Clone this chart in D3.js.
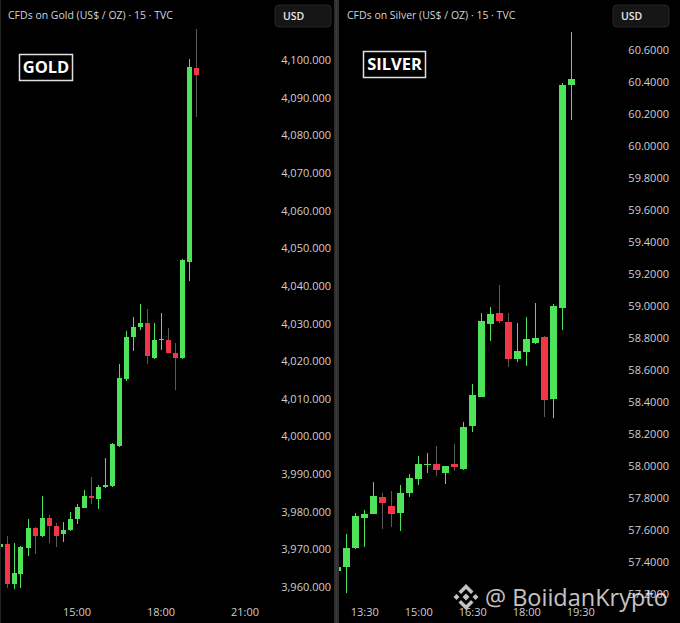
<!DOCTYPE html>
<html>
<head>
<meta charset="utf-8">
<script src="https://cdn.jsdelivr.net/npm/d3@7"></script>
<style>
  html, body { margin: 0; padding: 0; background: #000; }
  svg { display: block; font-family: "Open Sans", sans-serif; }
</style>
</head>
<body>
<div id="chart"></div>
<script>
// gold, 15 min candles
const goldTimes = ["12:15","12:30","12:45","13:00","13:15","13:30","13:45","14:00","14:15","14:30","14:45","15:00","15:15","15:30","15:45","16:00","16:15","16:30","16:45","17:00","17:15","17:30","17:45","18:00","18:15","18:30","18:45","19:00","19:15"]
const goldOpen  = [3970.5,3971.4,3960.8,3963.4,3970.4,3975.7,3973.5,3978.3,3976.2,3974.1,3975.1,3978.1,3980.9,3984.2,3983.4,3986.6,3986.8,3997.4,4015.3,4026.4,4029.1,4030.1,4020.8,4025.6,4025.6,4022.2,4020.8,4046.3,4097.9]
const goldHigh  = [3972.0,3973.5,3971.7,3970.8,3978.1,3975.9,3984.2,3979.1,3977.0,3977.3,3979.9,3982.0,3985.8,3989.2,3987.1,3994.3,3998.2,4019.2,4028.0,4031.7,4035.2,4033.8,4030.1,4032.8,4028.8,4024.8,4047.2,4100.3,4108.2]
const goldLow   = [3969.5,3959.7,3959.5,3959.7,3968.2,3968.8,3973.3,3971.7,3970.6,3971.9,3974.9,3976.7,3980.9,3982.0,3980.7,3986.3,3986.6,3997.2,4014.7,4022.7,4028.3,4019.2,4020.6,4023.0,4022.2,4012.3,4020.6,4041.3,4084.9]
const goldClose = [3971.3,3960.8,3963.7,3970.6,3975.7,3973.5,3978.3,3976.2,3973.5,3975.1,3978.1,3981.2,3984.2,3983.6,3986.6,3987.1,3998.0,4015.5,4026.4,4029.1,4030.1,4021.4,4025.6,4025.9,4022.2,4020.8,4046.9,4098.1,4096.0]
const goldTicks = [3960,3970,3980,3990,4000,4010,4020,4030,4040,4050,4060,4070,4080,4090,4100]
const goldTimeTicks = ["15:00","18:00","21:00"]

// silver, 15 min candles
const silverTimes = ["12:45","13:00","13:15","13:30","13:45","14:00","14:15","14:30","14:45","15:00","15:15","15:30","15:45","16:00","16:15","16:30","16:45","17:00","17:15","17:30","17:45","18:00","18:15","18:30","18:45","19:00","19:15"]
const silverOpen  = [57.341,57.368,57.484,57.672,57.697,57.803,57.747,57.703,57.828,57.916,58.005,58.009,57.953,58.009,57.978,58.247,58.428,58.886,58.955,58.897,58.666,58.709,58.768,58.803,58.416,58.984,60.376]
const silverHigh  = [57.375,57.572,57.703,57.722,57.897,57.828,57.841,57.878,57.947,58.059,58.078,58.122,58.000,58.134,58.274,58.509,58.953,58.993,59.128,58.955,58.893,58.930,59.018,58.811,59.009,60.393,60.711]
const silverLow   = [57.330,57.203,57.478,57.491,57.697,57.603,57.616,57.591,57.803,57.878,57.953,57.934,57.884,57.966,57.975,58.209,58.428,58.778,58.891,58.618,58.647,58.622,58.759,58.305,58.299,58.847,60.159]
const silverClose = [57.366,57.486,57.684,57.697,57.809,57.766,57.697,57.828,57.922,58.009,58.011,57.972,57.999,57.991,58.241,58.441,58.903,58.949,58.905,58.668,58.716,58.791,58.797,58.409,58.997,60.378,60.416]
const silverTicks = [57.2,57.4,57.6,57.8,58.0,58.2,58.4,58.6,58.8,59.0,59.2,59.4,59.6,59.8,60.0,60.2,60.4,60.6]
const silverTimeTicks = ["13:30","15:00","16:30","18:00","19:30"]

const UP = "#4fe35b"
const DOWN = "#f23645"
const WICK_DOWN = "#5a5a5a"
const TEXT = "#d1d4dc"
const AXIS_TEXT = "#cfcfcf"

const parse = d3.timeParse("%H:%M")
const W = 680
const H = 623

const svg = d3
  .select("#chart")
  .append("svg")
  .attr("width", W)
  .attr("height", H)

svg.append("rect").attr("width", W).attr("height", H).attr("fill", "#000")

const drawPanel = opts => {
  const { left, right, title, badge, badgeBox, times, open, high, low, close,
    ticks, fmt, timeTicks, xDomain, xRange, yDomain, yRange, bodyFrac } = opts

  const candles = times.map((t, i) => ({
    t: parse(t), o: open[i], h: high[i], l: low[i], c: close[i],
  }))

  const x = d3.scaleTime().domain(xDomain.map(parse)).range(xRange)
  const y = d3.scaleLinear().domain(yDomain).range(yRange)
  const step = x(parse("00:15")) - x(parse("00:00"))
  const bw = Math.round(step * bodyFrac)

  const clipId = "clip-" + badge
  svg
    .append("clipPath")
    .attr("id", clipId)
    .append("rect")
    .attr("x", left)
    .attr("y", 0)
    .attr("width", right - left)
    .attr("height", H)

  const g = svg.append("g").attr("clip-path", `url(#${clipId})`)

  // price axis, labels only
  const yAxis = g
    .append("g")
    .attr("transform", `translate(${right - 3},0)`)
    .call(d3.axisLeft(y).tickValues(ticks).tickFormat(fmt).tickSize(0).tickPadding(0))
  yAxis.select(".domain").remove()
  yAxis
    .selectAll("text")
    .attr("fill", AXIS_TEXT)
    .attr("font-size", 11)
    .attr("font-family", "'Open Sans', sans-serif")

  // time axis
  const xAxis = g
    .append("g")
    .attr("transform", "translate(0,600)")
    .call(
      d3.axisBottom(x)
        .tickValues(timeTicks.map(parse))
        .tickFormat(d3.timeFormat("%H:%M"))
        .tickSize(0)
        .tickPadding(8)
    )
  xAxis.select(".domain").remove()
  xAxis
    .selectAll("text")
    .attr("fill", AXIS_TEXT)
    .attr("font-size", 11)
    .attr("font-family", "'Open Sans', sans-serif")

  const cg = g.append("g").attr("shape-rendering", "crispEdges")
  cg.selectAll("line.wick")
    .data(candles)
    .enter()
    .append("line")
    .attr("class", "wick")
    .attr("x1", d => Math.round(x(d.t)) + 0.5)
    .attr("x2", d => Math.round(x(d.t)) + 0.5)
    .attr("y1", d => y(d.h))
    .attr("y2", d => y(d.l))
    .attr("stroke", d => (d.c >= d.o ? UP : WICK_DOWN))
    .attr("stroke-width", 1)

  cg.selectAll("rect.body")
    .data(candles)
    .enter()
    .append("rect")
    .attr("class", "body")
    .attr("x", d => Math.round(x(d.t)) + 0.5 - bw / 2)
    .attr("width", bw)
    .attr("y", d => y(Math.max(d.o, d.c)))
    .attr("height", d => Math.max(1.2, Math.abs(y(d.o) - y(d.c))))
    .attr("fill", d => (d.c >= d.o ? UP : DOWN))

  // header
  g.append("text")
    .attr("x", left + 8)
    .attr("y", 19)
    .attr("fill", TEXT)
    .attr("font-size", 10.5)
    .text(title)

  const usdX = right - 59
  g.append("rect")
    .attr("x", usdX)
    .attr("y", 5)
    .attr("width", 56)
    .attr("height", 22)
    .attr("rx", 4)
    .attr("fill", "#161616")
    .attr("stroke", "#262626")
  g.append("text")
    .attr("x", usdX + 8)
    .attr("y", 20)
    .attr("fill", "#e8e8e8")
    .attr("font-size", 10.5)
    .attr("font-weight", 600)
    .text("USD")

  // name badge
  g.append("rect")
    .attr("x", badgeBox[0] + 0.5)
    .attr("y", badgeBox[1] + 0.5)
    .attr("width", badgeBox[2])
    .attr("height", badgeBox[3])
    .attr("fill", "none")
    .attr("stroke", "#e0e0e0")
    .attr("stroke-width", 1.5)
  g.append("text")
    .attr("x", badgeBox[0] + badgeBox[2] / 2 + 0.5)
    .attr("y", badgeBox[1] + badgeBox[3] / 2 + 6)
    .attr("text-anchor", "middle")
    .attr("fill", "#fff")
    .attr("font-size", 16.5)
    .attr("font-weight", 700)
    .text(badge)
}

drawPanel({
  left: 0, right: 334,
  title: "CFDs on Gold (US$ / OZ) · 15 · TVC",
  badge: "GOLD", badgeBox: [19, 54, 53, 26],
  times: goldTimes, open: goldOpen, high: goldHigh, low: goldLow, close: goldClose,
  ticks: goldTicks, fmt: d3.format(",.3f"), timeTicks: goldTimeTicks,
  xDomain: ["15:00", "18:00"], xRange: [76.5, 160.5],
  yDomain: [3960, 4100], yRange: [587, 60],
  bodyFrac: 0.72,
})

drawPanel({
  left: 339, right: 672,
  title: "CFDs on Silver (US$ / OZ) · 15 · TVC",
  badge: "SILVER", badgeBox: [363, 51, 62, 26],
  times: silverTimes, open: silverOpen, high: silverHigh, low: silverLow, close: silverClose,
  ticks: silverTicks, fmt: d3.format(".4f"), timeTicks: silverTimeTicks,
  xDomain: ["13:30", "16:30"], xRange: [364.3, 472.3],
  yDomain: [57.4, 60.6], yRange: [561.5, 49.5],
  bodyFrac: 0.78,
})

// separator between the two screenshots
svg.append("rect").attr("x", 334).attr("y", 0).attr("width", 5).attr("height", H).attr("fill", "#2c2c2c")
svg.append("rect").attr("x", 335.5).attr("y", 0).attr("width", 2).attr("height", H).attr("fill", "#3a3a3a")
svg.append("rect").attr("x", 0).attr("y", 0).attr("width", 1).attr("height", H).attr("fill", "#222")

// watermark
const wm = svg.append("g").attr("opacity", 0.85)
const logo = wm.append("g").attr("transform", "translate(466,597)").attr("fill", "#e6e6e6")
logo.append("path").attr("d", "M0,-3.5 L3.5,0 L0,3.5 L-3.5,0 Z")
logo.append("path").attr("d", "M-9.5,-3 L-6.5,0 L-9.5,3 L-12.5,0 Z")
logo.append("path").attr("d", "M9.5,-3 L12.5,0 L9.5,3 L6.5,0 Z")
logo.append("path").attr("d", "M0,-13 L7.5,-5.5 L5,-3 L0,-8 L-5,-3 L-7.5,-5.5 Z")
logo.append("path").attr("d", "M0,13 L7.5,5.5 L5,3 L0,8 L-5,3 L-7.5,5.5 Z")
wm.append("text")
  .attr("x", 485)
  .attr("y", 606)
  .attr("fill", "#e6e6e6")
  .attr("font-size", 23.5)
  .attr("font-family", "'Open Sans', sans-serif")
  .text("@ BoiidanKrypto")
</script>
</body>
</html>
